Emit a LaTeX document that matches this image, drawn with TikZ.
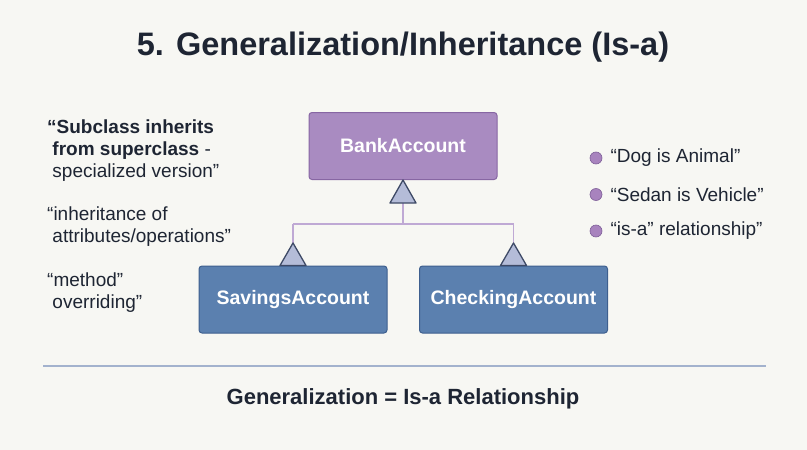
\documentclass[tikz,border=0pt]{standalone}
\usepackage{fontspec}
\setmainfont{Liberation Sans}
\usetikzlibrary{positioning}
\definecolor{bg}{HTML}{F7F7F3}
\definecolor{ink}{HTML}{1E2533}
\definecolor{purpfill}{HTML}{A98BC1}
\definecolor{purpline}{HTML}{8766A3}
\definecolor{bluefill}{HTML}{5B80AF}
\definecolor{blueline}{HTML}{3E5F8E}
\definecolor{conn}{HTML}{BFA9D4}
\definecolor{trifill}{HTML}{B4BCD8}
\definecolor{triline}{HTML}{3E4A66}
\definecolor{rule}{HTML}{A3B2CD}
\definecolor{dot}{HTML}{A883BE}
\definecolor{dotline}{HTML}{7E5F98}
\tikzset{
  classbox/.style={rounded corners=3pt, line width=1pt, minimum width=188pt, minimum height=67pt, text=white, font=\fontsize{19.5}{23}\selectfont\bfseries},
  supbox/.style={classbox, fill=purpfill, draw=purpline},
  subbox/.style={classbox, fill=bluefill, draw=blueline},
  gentri/.style={fill=trifill, draw=triline, line width=1.3pt, line join=round},
  connline/.style={draw=conn, line width=1.3pt},
  sidetext/.style={text=ink, font=\fontsize{19}{22}\selectfont, align=left, anchor=west, inner sep=0pt},
  bullet/.style={circle, fill=dot, draw=dotline, line width=0.6pt, minimum size=12pt, inner sep=0pt},
  bullettext/.style={text=ink, font=\fontsize{19}{22}\selectfont, anchor=west, inner sep=0pt},
}
\begin{document}
\begin{tikzpicture}[x=1pt, y=-1pt]
\fill[bg] (0,0) rectangle (807,450);
\useasboundingbox (0,0) rectangle (807,450);
\node[text=ink, font=\fontsize{32.5}{38}\selectfont\bfseries] (title) at (403,47) {5. Generalization/Inheritance (Is-a)};

\node[supbox] (bank) at (403,146) {BankAccount};
\node[subbox] (sav) at (293,299.5) {SavingsAccount};
\node[subbox] (chk) at (513.5,299.5) {CheckingAccount};

% connectors
\coordinate (junc) at (403,224);
\coordinate (tb) at (403,203);
\coordinate (ls) at (293,224);
\coordinate (rs) at (513.5,224);
\coordinate (lb) at (293,243);
\coordinate (rb) at (513.5,243);
\draw[connline] (tb) -- (junc);
\draw[connline] (ls) -- (rs);
\draw[connline] (ls) -- (lb);
\draw[connline] (rs) -- (rb);
\draw[gentri] (bank.south) -- ++(-13,23) -- ++(26,0) -- cycle;
\draw[gentri] (lb) -- ([xshift=-13pt]sav.north) -- ([xshift=13pt]sav.north) -- cycle;
\draw[gentri] (rb) -- ([xshift=-13pt]chk.north) -- ([xshift=13pt]chk.north) -- cycle;

% left text
\node[sidetext] (t1) at (47,151) {{\bfseries ``Subclass inherits}\\{\bfseries\ from superclass} -\\\ specialized version''};
\node[sidetext] (t2) at (47,226.5) {``inheritance of\\\ attributes/operations''};
\node[sidetext] (t3) at (47,292.5) {``method''\\\ overriding''};

% right bullets
\node[bullet] (b1) at (596,158) {};
\node[bullet] (b2) at (596,194.5) {};
\node[bullet] (b3) at (596,231) {};
\node[bullettext, right=8pt of b1] (bt1) {``Dog is Animal''};
\node[bullettext, right=8pt of b2] (bt2) {``Sedan is Vehicle''};
\node[bullettext, right=8pt of b3] (bt3) {``is-a'' relationship''};

% rule and footer
\coordinate (r1) at (43,366);
\coordinate (r2) at (766,366);
\draw[draw=rule, line width=1.2pt] (r1) -- (r2);
\node[text=ink, font=\fontsize{22}{26}\selectfont\bfseries] (foot) at (403,399) {Generalization = Is-a Relationship};
\end{tikzpicture}
\end{document}
